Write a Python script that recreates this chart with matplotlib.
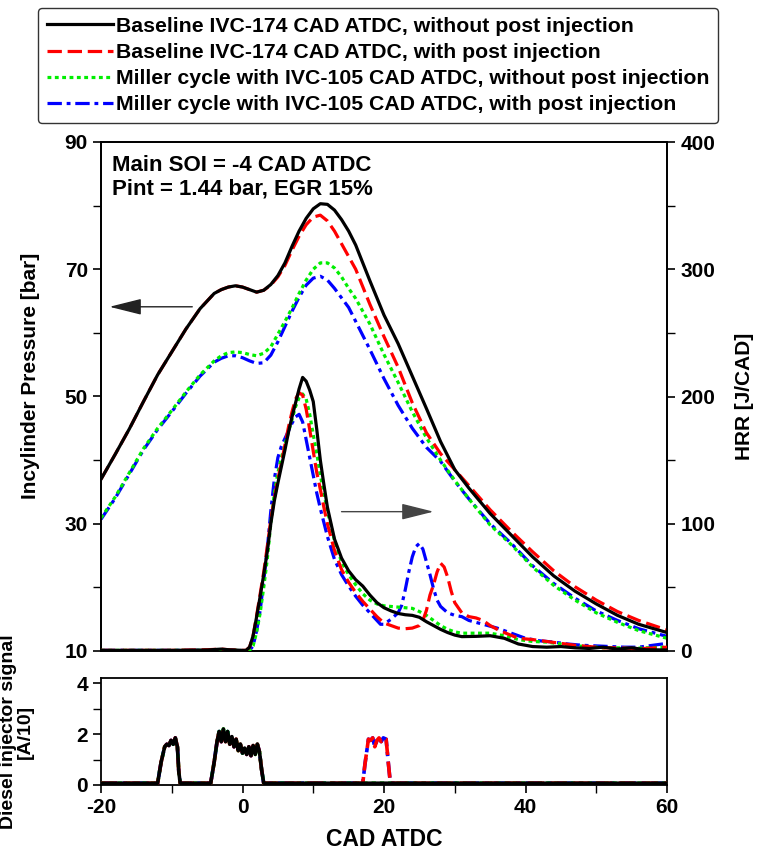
import matplotlib
matplotlib.use("Agg")
import matplotlib.pyplot as plt
from matplotlib.ticker import MultipleLocator

plt.rcParams['font.family'] = ['Liberation Sans', 'DejaVu Sans']
plt.rcParams['font.weight'] = 'bold'
plt.rcParams['axes.unicode_minus'] = False

# ---- data ----
labels = [
    "Baseline IVC-174 CAD ATDC, without post injection",
    "Baseline IVC-174 CAD ATDC, with post injection",
    "Miller cycle with IVC-105 CAD ATDC, without post injection",
    "Miller cycle with IVC-105 CAD ATDC, with post injection",
]

# in-cylinder pressure [bar]
p_cad = [-20, -18, -16, -14, -12, -10, -8, -6, -4, -3, -2, -1, 0, 1, 2, 3, 4, 5, 6, 7, 8,
         9, 10, 11, 12, 13, 14, 15, 16, 18, 20, 22, 24, 26, 28, 30, 32, 35, 38, 41, 44,
         47, 50, 53, 56, 60]
p_base = [37.0, 40.9, 44.9, 49.2, 53.4, 57.0, 60.6, 63.8, 66.2, 66.8, 67.2, 67.4, 67.2,
          66.8, 66.4, 66.7, 67.6, 69.0, 71.0, 73.6, 76.0, 78.0, 79.5, 80.3, 80.2, 79.3,
          77.8, 76.0, 73.8, 68.2, 62.8, 58.3, 53.2, 48.1, 42.9, 38.5, 35.6, 31.6, 28.2,
          24.8, 21.8, 19.4, 17.4, 15.6, 14.2, 12.9]
p_base_post = [37.0, 40.9, 44.9, 49.2, 53.4, 57.0, 60.6, 63.8, 66.2, 66.8, 67.2, 67.4,
               67.2, 66.8, 66.4, 66.7, 67.5, 68.8, 70.6, 73.0, 75.2, 77.0, 78.2, 78.5,
               77.6, 76.0, 74.0, 72.0, 70.0, 64.5, 59.4, 54.6, 49.0, 44.3, 41.0, 38.5,
               36.0, 32.2, 28.8, 25.6, 22.6, 20.1, 18.0, 16.2, 14.8, 13.3]
p_miller = [30.9, 34.2, 38.0, 41.8, 45.0, 47.8, 50.7, 53.4, 55.6, 56.4, 56.9, 57.0, 56.9,
            56.6, 56.4, 56.8, 57.8, 59.8, 61.8, 63.9, 66.2, 68.3, 70.0, 71.0, 71.0, 70.2,
            68.8, 67.0, 65.4, 61.4, 56.6, 52.2, 47.6, 43.5, 40.0, 36.8, 33.9, 29.8, 26.7,
            23.2, 20.3, 18.0, 16.0, 14.5, 13.2, 12.0]
p_miller_post = [30.7, 34.0, 37.8, 41.6, 44.8, 47.6, 50.5, 53.2, 55.4, 56.0, 56.4, 56.4,
                 56.1, 55.6, 55.2, 55.3, 56.5, 58.6, 61.0, 63.4, 65.6, 67.5, 68.6, 68.9,
                 68.3, 67.0, 65.5, 64.0, 61.8, 57.4, 52.8, 48.6, 45.0, 42.0, 39.8, 36.7,
                 33.9, 30.0, 26.9, 23.4, 20.6, 18.3, 16.3, 14.8, 13.5, 12.3]

# heat release rate [J/CAD]
hrr_base_cad = [-20, -10, -5, -3, -2, 0, 0.5, 1, 1.5, 2, 2.5, 3, 3.5, 4, 4.5, 5, 5.5, 6,
                6.5, 7, 7.5, 8, 8.5, 9, 9.5, 10, 10.5, 11, 11.5, 12, 13, 14, 15, 16, 17,
                18, 19, 20, 21, 22, 23, 24, 25, 26, 27, 28, 29, 30, 31, 33, 35, 37, 39,
                41, 43, 45, 47, 49, 51, 53, 55, 57, 60]
hrr_base = [0.5, 0.5, 0.8, 1.5, 1.0, 0.5, 0.5, 3, 12, 27, 43, 60, 78, 100, 118, 132, 145,
            158, 172, 184, 195, 206, 215, 212, 205, 196, 174, 150, 131, 113, 88, 73, 63,
            56, 51, 44, 38, 34, 31.5, 29.5, 28.5, 28, 26.5, 23, 20, 17, 14.5, 12.5, 11.3,
            11.5, 12, 10, 5.5, 3.5, 3.0, 3.5, 2.5, 2.0, 3.0, 1.5, 2.5, 1.0, 0.8]

hrr_base_post_cad = [-20, -10, -5, -3, -2, 0, 0.5, 1, 1.5, 2, 2.5, 3, 3.5, 4, 4.5, 5, 5.5,
                     6, 6.5, 7, 7.5, 8, 8.5, 9, 9.5, 10, 10.5, 11, 11.5, 12, 13, 14, 15,
                     16, 17, 18, 19, 20, 21, 22, 23, 24, 25, 25.5, 26, 26.5, 27, 27.5, 28,
                     28.5, 29, 29.5, 30, 31, 32, 33, 34, 35, 36, 37, 39, 41, 43, 45, 47,
                     49, 51, 53, 55, 57, 60]
hrr_base_post = [0.5, 0.5, 1.0, 1.5, 1.0, 0.5, 0.5, 3, 12, 28, 45, 62, 82, 103, 120, 135,
                 148, 162, 176, 188, 198, 203, 201, 190, 174, 157, 140, 127, 113, 100, 79,
                 64, 54, 46, 39, 33, 27, 22, 20, 18, 17.5, 18, 20, 24, 32, 44, 52, 62, 69,
                 66, 58, 47, 38, 30, 27, 26, 24, 20, 17, 14.5, 10, 9, 7.5, 6, 4.5, 3.5,
                 2.5, 2.5, 2.0, 2.0, 3.0]

hrr_miller_cad = [-20, -10, -5, -3, -2, 0, 0.5, 1, 1.5, 2, 2.5, 3, 3.5, 4, 4.5, 5, 5.5, 6,
                  6.5, 7, 7.5, 8, 8.5, 9, 9.5, 10, 10.5, 11, 11.5, 12, 13, 14, 15, 16, 17,
                  18, 19, 20, 21, 22, 23, 24, 25, 26, 27, 28, 29, 30, 31, 33, 35, 37, 39,
                  41, 43, 45, 47, 49, 51, 53, 55, 57, 60]
hrr_miller = [0.5, 0.5, 0.5, 1.0, 0.8, 0.3, 0.3, 0.5, 4, 15, 30, 50, 72, 100, 124, 140, 152,
              162, 172, 182, 192, 199, 202, 198, 186, 170, 155, 138, 124, 110, 87, 70, 60,
              52, 45, 40, 37, 35.5, 35, 34.5, 34, 33.5, 31, 28, 24, 20, 17, 15, 14, 14, 14,
              12, 9, 7.5, 7, 5.5, 4, 3.5, 2.5, 2.5, 2.0, 2.5, 3.0]

hrr_miller_post_cad = [-20, -10, -5, -3, -2, 0, 0.5, 1, 1.5, 2, 2.5, 3, 3.5, 4, 4.5, 5, 5.5,
                       6, 6.5, 7, 7.5, 8, 8.5, 9, 9.5, 10, 10.5, 11, 11.5, 12, 13, 14, 15,
                       16, 17, 18, 19, 19.5, 20, 21, 22, 22.5, 23, 23.5, 24, 24.5, 25, 25.5,
                       26, 26.5, 27, 27.5, 28, 29, 30, 31, 32, 34, 36, 38, 40, 42, 44, 46,
                       48, 50, 52, 54, 56, 58, 60]
hrr_miller_post = [0.5, 0.5, 0.5, 1.0, 0.8, 0.3, 0.3, 0.5, 4, 16, 32, 55, 80, 110, 135, 152,
                   161, 167, 173, 179, 184, 186, 180, 166, 152, 138, 124, 112, 101, 90, 72,
                   60, 51, 43, 36, 30, 24, 21, 21, 25, 30, 36, 48, 62, 74, 82, 84.5, 80, 70,
                   60, 49, 40, 35, 30, 28, 27, 24, 21, 18, 14, 10, 8, 7, 5.5, 4.5, 4, 3.5, 3,
                   3, 4.5, 6]

# diesel injector signal [A/10]
inj_cad = [-20, -12.0, -11.5, -11.0, -10.7, -10.4, -10.1, -9.8, -9.5, -9.2, -9.0, -8.8,
           -4.5, -4.0, -3.6, -3.3, -3.0, -2.7, -2.4, -2.1, -1.8, -1.5, -1.2, -0.9, -0.6,
           -0.3, 0.0, 0.3, 0.6, 0.9, 1.2, 1.5, 1.8, 2.1, 2.4, 2.7, 3.0, 60]
inj = [0.07, 0.07, 0.9, 1.5, 1.6, 1.55, 1.75, 1.6, 1.85, 1.5, 0.5, 0.07, 0.07, 0.9, 1.7,
       2.1, 1.7, 2.2, 1.7, 2.1, 1.6, 1.9, 1.5, 1.8, 1.35, 1.6, 1.25, 1.45, 1.2, 1.5, 1.15,
       1.55, 1.2, 1.6, 1.3, 0.6, 0.07, 0.07]
inj_post_cad = [-20, -12.0, -11.5, -11.0, -10.7, -10.4, -10.1, -9.8, -9.5, -9.2, -9.0, -8.8,
                -4.5, -4.0, -3.6, -3.3, -3.0, -2.7, -2.4, -2.1, -1.8, -1.5, -1.2, -0.9,
                -0.6, -0.3, 0.0, 0.3, 0.6, 0.9, 1.2, 1.5, 1.8, 2.1, 2.4, 2.7, 3.0, 17.0,
                17.3, 17.8, 18.1, 18.4, 18.7, 19.0, 19.3, 19.6, 19.9, 20.3, 20.6, 20.9, 60]
inj_post = [0.07, 0.07, 0.9, 1.5, 1.6, 1.55, 1.75, 1.6, 1.85, 1.5, 0.5, 0.07, 0.07, 0.9,
            1.7, 2.1, 1.7, 2.2, 1.7, 2.1, 1.6, 1.9, 1.5, 1.8, 1.35, 1.6, 1.25, 1.45, 1.2,
            1.5, 1.15, 1.55, 1.2, 1.6, 1.3, 0.6, 0.07, 0.07, 0.8, 1.8, 1.75, 1.85, 1.5,
            1.75, 1.85, 1.7, 1.85, 1.8, 0.9, 0.07, 0.07]

p_major = [10, 30, 50, 70, 90]
p_minor = [20, 40, 60, 80]

# ---- styles ----
LW = 2.3
styles = [
    dict(color='black', ls='-', zorder=5),
    dict(color='#ff0000', ls=(0, (4.5, 1.8)), zorder=4),
    dict(color='#00ee00', ls=(0, (1.2, 1.1)), zorder=3),
    dict(color='#0000ff', ls=(0, (4.5, 1.5, 1.2, 1.5)), zorder=2),
]

fig = plt.figure(figsize=(7.58, 8.56), dpi=100)
W, H = 758.0, 856.0
ax1 = fig.add_axes([101 / W, 1 - 651 / H, 566 / W, 509 / H])
ax2 = ax1.twinx()
ax3 = fig.add_axes([101 / W, 1 - 785 / H, 566 / W, 107 / H])

pressures = [p_base, p_base_post, p_miller, p_miller_post]
hrrs = [(hrr_base_cad, hrr_base), (hrr_base_post_cad, hrr_base_post),
        (hrr_miller_cad, hrr_miller), (hrr_miller_post_cad, hrr_miller_post)]
injs = [(inj_cad, inj), (inj_post_cad, inj_post), (inj_cad, inj), (inj_post_cad, inj_post)]

handles = []
for i in range(4):
    st = styles[i]
    h, = ax1.plot(p_cad, pressures[i], color=st['color'], ls=st['ls'], lw=LW,
                  zorder=st['zorder'], label=labels[i])
    handles.append(h)
    ax2.plot(hrrs[i][0], hrrs[i][1], color=st['color'], ls=st['ls'], lw=LW,
             zorder=st['zorder'])
    ax3.plot(injs[i][0], injs[i][1], color=st['color'], ls=st['ls'], lw=LW + 0.3,
             zorder=st['zorder'])

TICK_FS = 15
LABEL_FS = 15

ax1.set_xlim(-20, 60)
ax1.set_ylim(10, 90)
ax2.set_ylim(0, 400)
ax1.set_yticks(p_major)
ax1.set_yticks(p_minor, minor=True)
ax2.yaxis.set_major_locator(MultipleLocator(100))
ax2.yaxis.set_minor_locator(MultipleLocator(50))
ax1.tick_params(axis='x', which='both', bottom=False, labelbottom=False)
for ax in (ax1, ax2, ax3):
    ax.tick_params(which='major', direction='out', length=6, width=1.2, labelsize=TICK_FS)
    ax.tick_params(which='minor', direction='out', length=6, width=1.0)
    for s in ax.spines.values():
        s.set_linewidth(1.3)

ax1.set_ylabel("Incylinder Pressure [bar]", fontsize=LABEL_FS, fontweight='bold')
ax1.yaxis.set_label_coords(-0.108, 0.54)
ax2.set_ylabel("HRR [J/CAD]", fontsize=LABEL_FS, fontweight='bold')
ax2.yaxis.set_label_coords(1.12, 0.5)

ax3.set_xlim(-20, 60)
ax3.set_ylim(0, 4.2)
ax3.xaxis.set_major_locator(MultipleLocator(20))
ax3.xaxis.set_minor_locator(MultipleLocator(10))
ax3.yaxis.set_major_locator(MultipleLocator(2))
ax3.yaxis.set_minor_locator(MultipleLocator(1))
ax3.set_xlabel("CAD ATDC", fontsize=LABEL_FS + 1.5, fontweight='bold', labelpad=8)
ax3.set_ylabel("Diesel injector signal\n[A/10]", fontsize=14, fontweight='bold',
               linespacing=1.05)
ax3.yaxis.set_label_coords(-0.118, 0.5)

# annotations
ax1.text(0.02, 0.975, "Main SOI = -4 CAD ATDC\nPint = 1.44 bar, EGR 15%",
         transform=ax1.transAxes, ha='left', va='top', fontsize=16, fontweight='bold',
         linespacing=1.15)
ax1.annotate("", xy=(-18.8, 64.1), xytext=(-7.1, 64.1),
             arrowprops=dict(arrowstyle='-|>,head_length=1.0,head_width=0.25',
                             mutation_scale=20, lw=1.0, color='#222222',
                             shrinkA=0, shrinkB=0))
ax1.annotate("", xy=(27.0, 31.9), xytext=(14.0, 31.9),
             arrowprops=dict(arrowstyle='-|>,head_length=1.0,head_width=0.25',
                             mutation_scale=20, lw=1.0, color='#444444',
                             shrinkA=0, shrinkB=0))

leg = fig.legend(handles=handles, loc='upper center', bbox_to_anchor=(378 / W, 1 - 8 / H),
                 fontsize=15.3, frameon=True, fancybox=True, edgecolor='black',
                 handlelength=3.1, handletextpad=0.15, labelspacing=0.33,
                 borderpad=0.42, borderaxespad=0)
leg.get_frame().set_linewidth(1.0)
for t in leg.get_texts():
    t.set_fontweight('bold')

fig.savefig("out.png", dpi=100)
